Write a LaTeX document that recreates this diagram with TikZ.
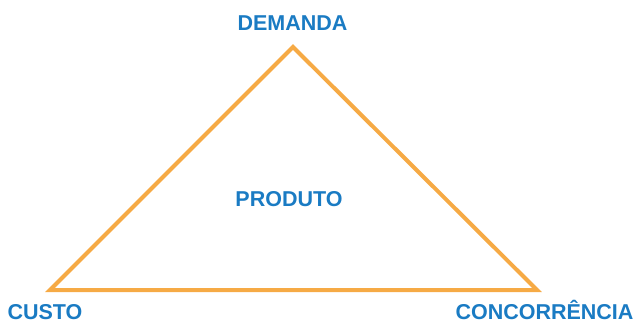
\documentclass[tikz,border=0pt]{standalone}
\usepackage{fontspec}
\setmainfont{Liberation Sans}
\usepackage{xcolor}
\usepackage{tikz}
\usetikzlibrary{positioning}
\definecolor{labelblue}{HTML}{1A7BC3}
\definecolor{edgeorange}{HTML}{F6AA45}
\tikzstyle{label} = [text=labelblue, font=\fontsize{21.5}{24}\selectfont\bfseries, inner sep=0pt, text depth=0pt, anchor=base]
\tikzstyle{edge} = [draw=edgeorange, line width=4pt, line join=miter]

\begin{document}
\begin{tikzpicture}[x=1pt, y=-1pt]
    \useasboundingbox (0,0) rectangle (636,324);
    % Corners
    \coordinate (top) at (293,47);
    \coordinate (left) at (50,290);
    \coordinate (right) at (537,290);
    % Triangle
    \draw [edge] (top) -- (left) -- (right) -- cycle;
    % Labels
    \node (demanda) [label] at (292.5,30) {DEMANDA};
    \node (produto) [label] at (289,206.5) {PRODUTO};
    \node (custo) [label] at (45,319) {CUSTO};
    \node (concorrencia) [label] at (544.5,319) {CONCORRÊNCIA};
\end{tikzpicture}
\end{document}
